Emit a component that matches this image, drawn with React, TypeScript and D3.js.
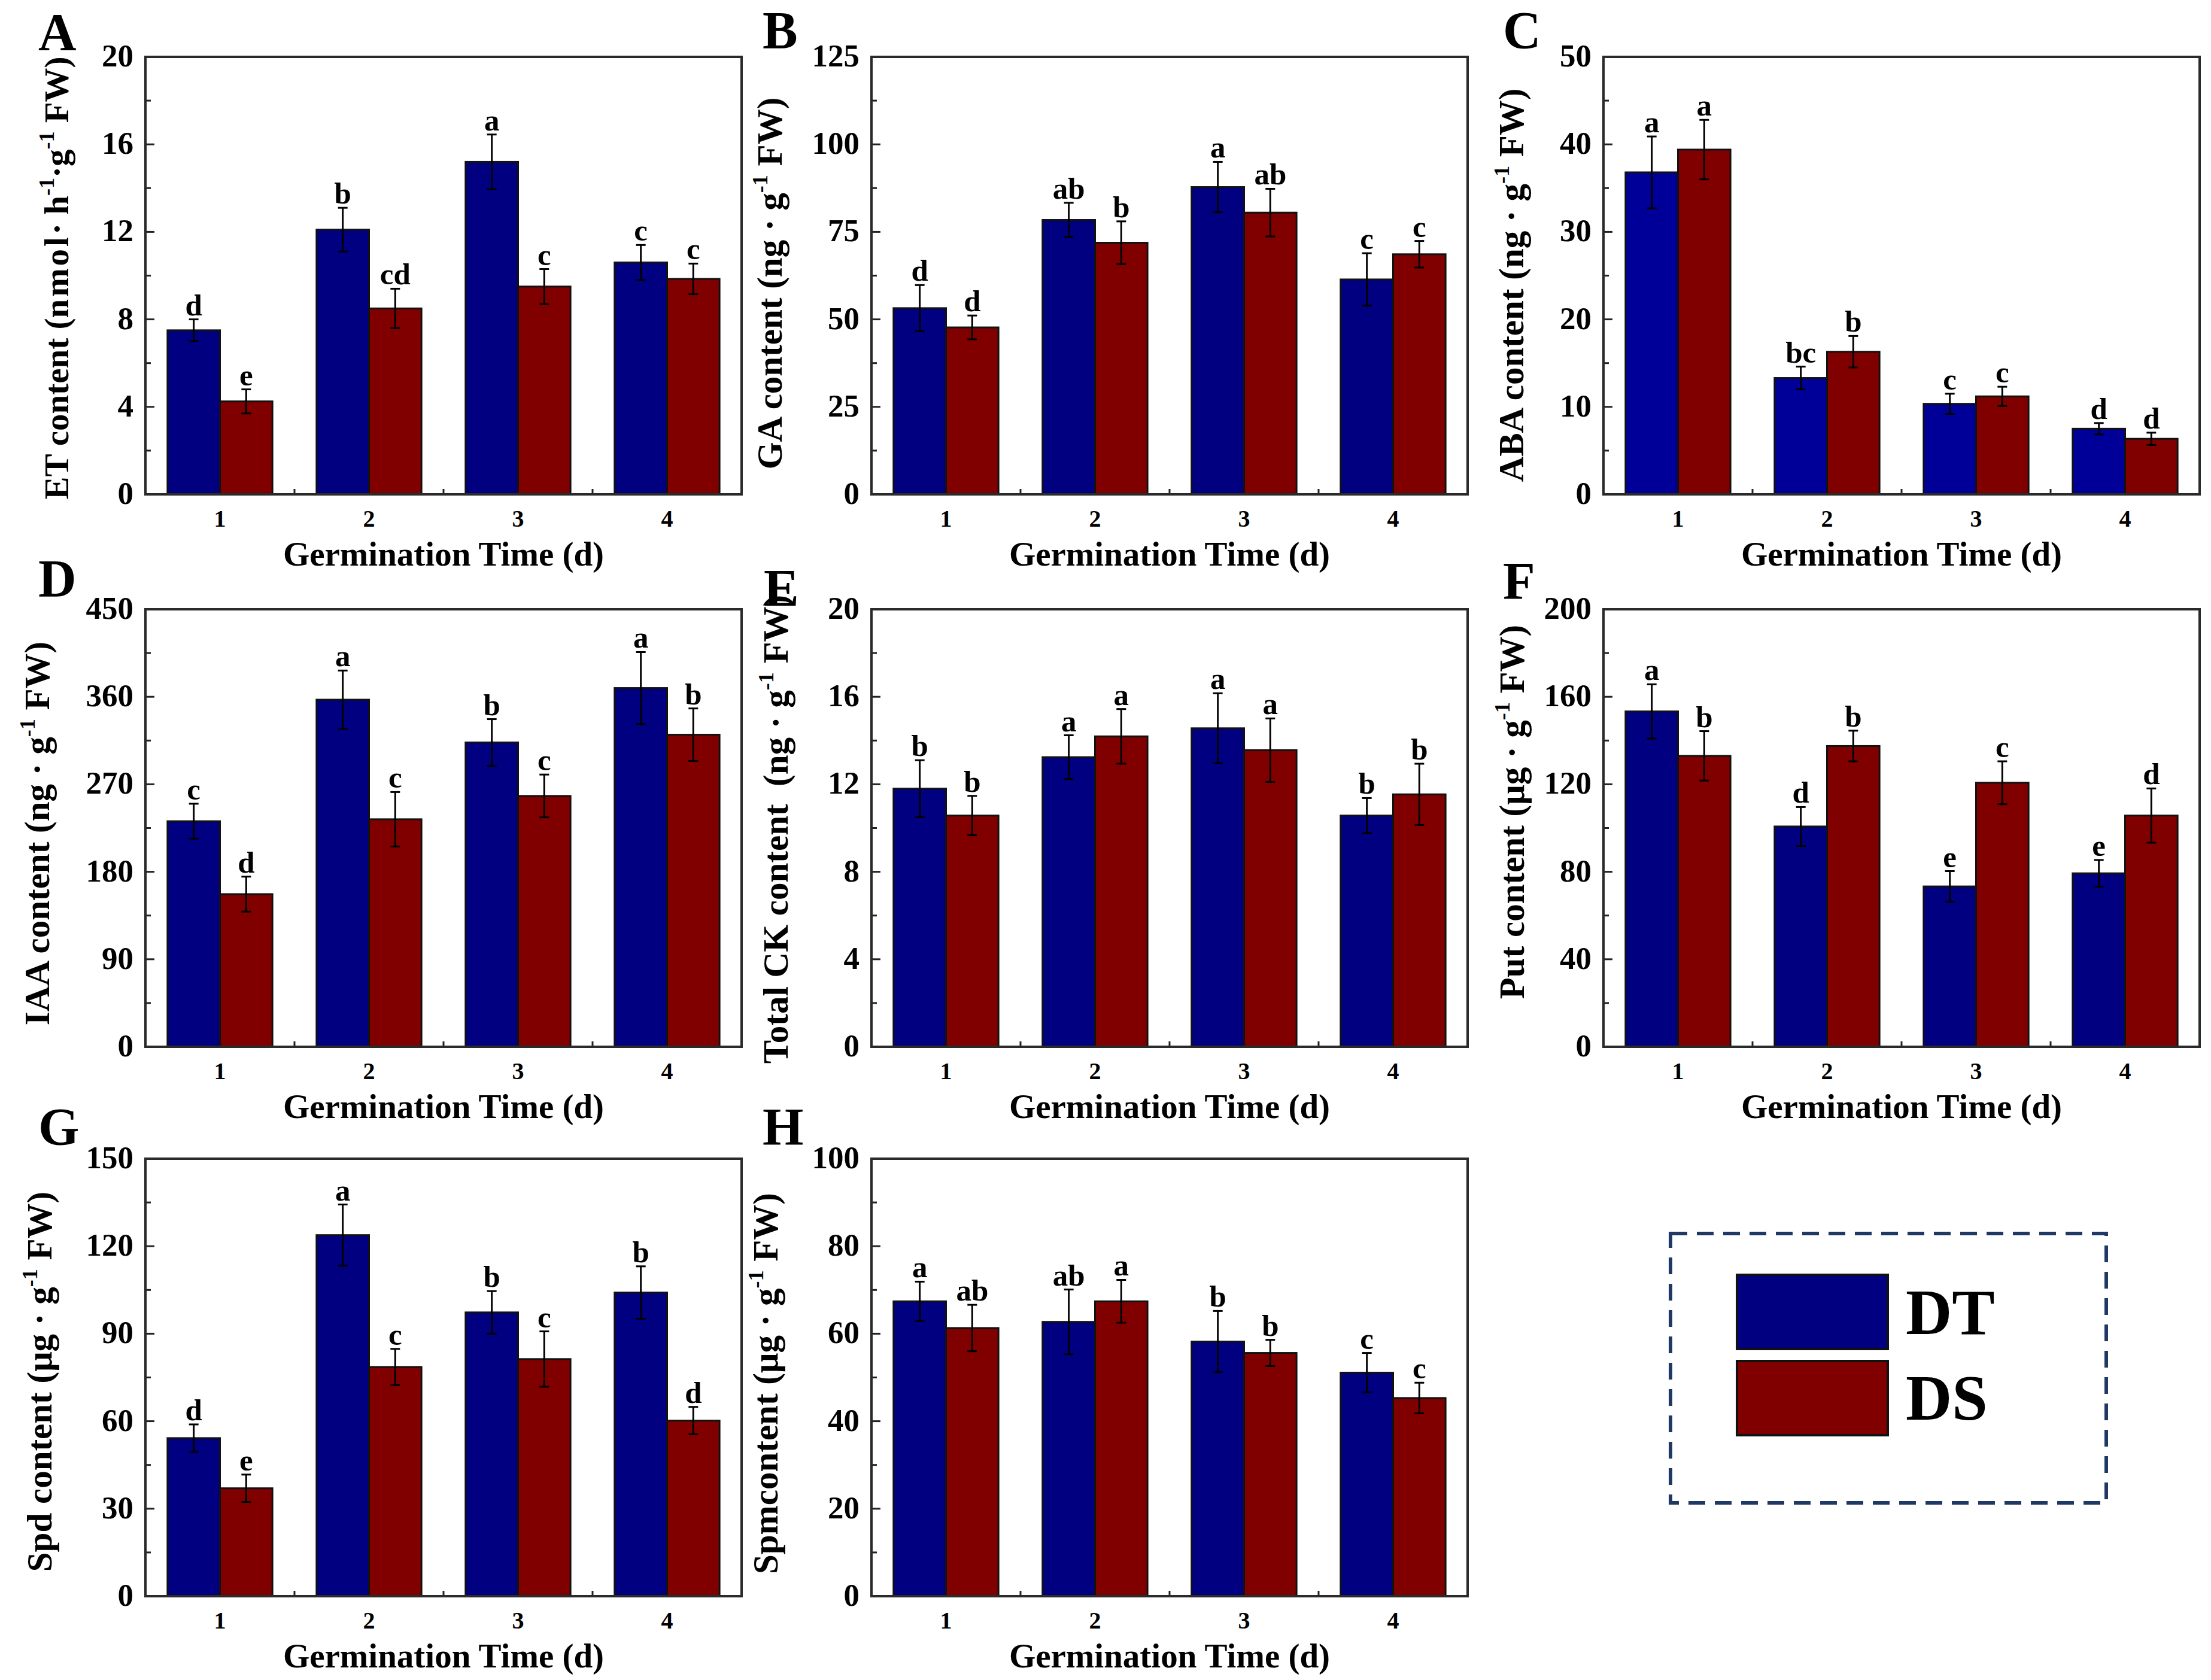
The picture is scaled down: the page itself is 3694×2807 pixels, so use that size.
import { useEffect } from 'react'
import * as d3 from 'd3'

// germination days
const days = [1, 2, 3, 4]

// A: ET
const etDT = [7.5, 12.1, 15.2, 10.6]
const etDTErr = [0.5, 1.0, 1.25, 0.8]
const etDS = [4.25, 8.5, 9.5, 9.85]
const etDSErr = [0.55, 0.9, 0.8, 0.7]
const etDTLetters = ['d', 'b', 'a', 'c']
const etDSLetters = ['e', 'cd', 'c', 'c']

// B: GA
const gaDT = [53.2, 78.4, 87.8, 61.4]
const gaDTErr = [6.6, 4.9, 7.2, 7.5]
const gaDS = [47.7, 71.9, 80.5, 68.6]
const gaDSErr = [3.4, 6.1, 6.8, 3.8]
const gaDTLetters = ['d', 'ab', 'a', 'c']
const gaDSLetters = ['d', 'b', 'ab', 'c']

// C: ABA
const abaDT = [36.8, 13.3, 10.35, 7.5]
const abaDTErr = [4.1, 1.3, 1.15, 0.65]
const abaDS = [39.4, 16.3, 11.2, 6.35]
const abaDSErr = [3.4, 1.8, 1.1, 0.7]
const abaDTLetters = ['a', 'bc', 'c', 'd']
const abaDSLetters = ['a', 'b', 'c', 'd']

// D: IAA
const iaaDT = [232, 357, 313, 369]
const iaaDTErr = [18, 30, 24, 37]
const iaaDS = [157, 234, 258, 321]
const iaaDSErr = [18, 28, 22, 27]
const iaaDTLetters = ['c', 'a', 'b', 'a']
const iaaDSLetters = ['d', 'c', 'c', 'b']

// E: total CK
const ckDT = [11.8, 13.24, 14.56, 10.57]
const ckDTErr = [1.3, 1.0, 1.6, 0.8]
const ckDS = [10.57, 14.19, 13.56, 11.54]
const ckDSErr = [0.9, 1.25, 1.45, 1.4]
const ckDTLetters = ['b', 'a', 'a', 'b']
const ckDSLetters = ['b', 'a', 'a', 'b']

// F: Put
const putDT = [153.3, 100.7, 73.3, 79.3]
const putDTErr = [12.4, 8.9, 7, 6.1]
const putDS = [133, 137.5, 120.7, 105.7]
const putDSErr = [11.3, 7, 9.8, 12.4]
const putDTLetters = ['a', 'd', 'e', 'e']
const putDSLetters = ['b', 'b', 'c', 'd']

// G: Spd
const spdDT = [54.2, 123.8, 97.3, 104.1]
const spdDTErr = [4.7, 10.5, 7.3, 9]
const spdDS = [37, 78.6, 81.3, 60.2]
const spdDSErr = [4.7, 6.2, 9.5, 4.7]
const spdDTLetters = ['d', 'a', 'b', 'b']
const spdDSLetters = ['e', 'c', 'c', 'd']

// H: Spm
const spmDT = [67.4, 62.7, 58.2, 51.1]
const spmDTErr = [4.5, 7.4, 7, 4.5]
const spmDS = [61.3, 67.4, 55.6, 45.3]
const spmDSErr = [5.3, 4.9, 3, 3.5]
const spmDTLetters = ['a', 'ab', 'b', 'c']
const spmDSLetters = ['ab', 'a', 'b', 'c']

const seriesNames = ['DT', 'DS']

const W = 3694
const H = 2807
const plotW = 996
const plotH = 731
const colX = [243, 1456, 2679]
const rowY = [95, 1018, 1936]
const FONT = '"Liberation Serif", "Times New Roman", serif'
const RED = '#800000'
const NAVY = '#000080'

const panels = [
  { id: 'A', col: 0, row: 0, max: 20, step: 4, dt: etDT, dtErr: etDTErr, ds: etDS, dsErr: etDSErr, dtL: etDTLetters, dsL: etDSLetters,
    title: [['ET content (', 0], ['nmol', 0, 4], ['· h', 0], ['-1', 1], ['·g', 0], ['-1', 1], [' FW)', 0]], tsize: 57, blue: NAVY, tdx: -129, tdy: 4, ldx: -179, ldy: -12 },
  { id: 'B', col: 1, row: 0, max: 125, step: 25, dt: gaDT, dtErr: gaDTErr, ds: gaDS, dsErr: gaDSErr, dtL: gaDTLetters, dsL: gaDSLetters,
    title: [['GA content (ng · g', 0], ['-1', 1], [' FW)', 0]], blue: NAVY, tdx: -150, tdy: 13, ldx: -182, ldy: -15 },
  { id: 'C', col: 2, row: 0, max: 50, step: 10, dt: abaDT, dtErr: abaDTErr, ds: abaDS, dsErr: abaDSErr, dtL: abaDTLetters, dsL: abaDSLetters,
    title: [['ABA content (ng · g', 0], ['-1', 1], [' FW)', 0]], blue: '#000099', tdx: -134, tdy: 16, ldx: -168, ldy: -15 },
  { id: 'D', col: 0, row: 1, max: 450, step: 90, dt: iaaDT, dtErr: iaaDTErr, ds: iaaDS, dsErr: iaaDSErr, dtL: iaaDTLetters, dsL: iaaDSLetters,
    title: [['IAA content (ng · g', 0], ['-1', 1], [' FW)', 0]], blue: NAVY, tdx: -161, tdy: 9, ldx: -179, ldy: -22 },
  { id: 'E', col: 1, row: 1, max: 20, step: 4, dt: ckDT, dtErr: ckDTErr, ds: ckDS, dsErr: ckDSErr, dtL: ckDTLetters, dsL: ckDSLetters,
    title: [['Total CK content\u00a0\u00a0(ng · g', 0], ['-1', 1], [' FW)', 0]], blue: NAVY, tdx: -140, tdy: 2, ldx: -180, ldy: -6 },
  { id: 'F', col: 2, row: 1, max: 200, step: 40, dt: putDT, dtErr: putDTErr, ds: putDS, dsErr: putDSErr, dtL: putDTLetters, dsL: putDSLetters,
    title: [['Put content (μg · g', 0], ['-1', 1], [' FW)', 0]], blue: NAVY, tdx: -133, tdy: -27, ldx: -168, ldy: -18 },
  { id: 'G', col: 0, row: 2, max: 150, step: 30, dt: spdDT, dtErr: spdDTErr, ds: spdDS, dsErr: spdDSErr, dtL: spdDTLetters, dsL: spdDSLetters,
    title: [['Spd content (μg · g', 0], ['-1', 1], [' FW)', 0]], blue: NAVY, tdx: -157, tdy: 7, ldx: -179, ldy: -24 },
  { id: 'H', col: 1, row: 2, max: 100, step: 20, dt: spmDT, dtErr: spmDTErr, ds: spmDS, dsErr: spmDSErr, dtL: spmDTLetters, dsL: spmDSLetters,
    title: [['Spmcontent (μg · g', 0], ['-1', 1], [' FW)', 0]], blue: NAVY, tdx: -157, tdy: 10, ldx: -182, ldy: -24 },
]

const barW = 0.352

function Panel({ p }) {
  const x0 = colX[p.col]
  const y0 = rowY[p.row]
  const x = d3.scaleLinear().domain([0.5, 4.5]).range([0, plotW])
  const y = d3.scaleLinear().domain([0, p.max]).range([plotH, 0])
  const majors = d3.range(0, p.max + 1e-9, p.step)
  const minors = d3.range(p.step / 2, p.max, p.step)
  const xMinors = [1.5, 2.5, 3.5]

  const series = [
    { vals: p.dt, errs: p.dtErr, lets: p.dtL, color: p.blue, off: -barW },
    { vals: p.ds, errs: p.dsErr, lets: p.dsL, color: RED, off: 0 },
  ]

  return (
    <g transform={`translate(${x0},${y0})`}>
      {/* panel letter */}
      <text x={p.ldx} y={p.ldy} fontSize={88} fontWeight="bold" fontFamily={FONT}>{p.id}</text>

      {/* ticks */}
      {majors.map(v => (
        <line key={'M' + v} x1={0} x2={15} y1={y(v)} y2={y(v)} stroke="#222" strokeWidth={3} />
      ))}
      {minors.map(v => (
        <line key={'m' + v} x1={0} x2={9} y1={y(v)} y2={y(v)} stroke="#222" strokeWidth={3} />
      ))}
      {xMinors.map(v => (
        <line key={'x' + v} x1={x(v)} x2={x(v)} y1={plotH} y2={plotH - 9} stroke="#222" strokeWidth={3} />
      ))}

      {/* bars */}
      {series.map((s, si) => days.map((d, i) => (
        <rect key={si + '-' + d} x={x(d + s.off)} y={y(s.vals[i])}
          width={x(d + s.off + barW) - x(d + s.off)} height={plotH - y(s.vals[i])}
          fill={s.color} stroke="#111" strokeWidth={3} />
      )))}

      {/* error bars + letters */}
      {series.map((s, si) => days.map((d, i) => {
        const cx = x(d + s.off + barW / 2)
        const top = y(s.vals[i] + s.errs[i])
        const bot = y(s.vals[i] - s.errs[i])
        return (
          <g key={'e' + si + d}>
            <line x1={cx} x2={cx} y1={top} y2={bot} stroke="#000" strokeWidth={3} />
            <line x1={cx - 8} x2={cx + 8} y1={top} y2={top} stroke="#000" strokeWidth={3} />
            <line x1={cx - 8} x2={cx + 8} y1={bot} y2={bot} stroke="#000" strokeWidth={3} />
            <text x={cx} y={top - 7} textAnchor="middle" fontSize={51} fontWeight="bold" fontFamily={FONT}>{s.lets[i]}</text>
          </g>
        )
      }))}

      {/* frame */}
      <rect x={0} y={0} width={plotW} height={plotH} fill="none" stroke="#2a2a2a" strokeWidth={4} />

      {/* y tick labels */}
      {majors.map(v => (
        <text key={'t' + v} x={-20} y={y(v)} dy="0.3em" textAnchor="end" fontSize={53} fontWeight="bold" fontFamily={FONT}>{v}</text>
      ))}
      {/* x tick labels */}
      {days.map(d => (
        <text key={'d' + d} x={x(d)} y={plotH + 54} textAnchor="middle" fontSize={40} fontWeight="bold" fontFamily={FONT}>{d}</text>
      ))}
      <text x={plotW / 2} y={plotH + 119} textAnchor="middle" fontSize={57} fontWeight="bold" fontFamily={FONT}>Germination Time (d)</text>

      {/* y title */}
      <text transform={`translate(${p.tdx},${plotH / 2 + p.tdy}) rotate(-90)`} textAnchor="middle" dy="0.35em"
        fontSize={p.tsize || 59} fontWeight="bold" fontFamily={FONT} style={{ whiteSpace: 'pre' }}>
        {p.title.map((t, k) => t[1]
          ? <tspan key={k} fontSize={36} dy={-24}>{t[0]}</tspan>
          : <tspan key={k} dy={k > 0 && p.title[k - 1][1] ? 24 : 0} letterSpacing={t[2] || 0}>{t[0]}</tspan>)}
      </text>
    </g>
  )
}

function Legend() {
  const colors = [NAVY, RED]
  return (
    <g>
      <rect x={2791} y={2061} width={728} height={450} fill="none" stroke="#203864" strokeWidth={6} strokeDasharray="28 16" />
      {seriesNames.map((n, i) => (
        <g key={n}>
          <rect x={2902} y={2130 + i * 144} width={252} height={124} fill={colors[i]} stroke="#111" strokeWidth={4} />
          <text x={3184} y={2229 + i * 143} fontSize={107} fontWeight="bold" fontFamily={FONT}>{n}</text>
        </g>
      ))}
    </g>
  )
}

export default function App() {
  useEffect(() => {
    document.body.style.margin = '0'
  }, [])
  return (
    <svg width={W} height={H} viewBox={`0 0 ${W} ${H}`} style={{ display: 'block', background: '#fff' }}>
      <rect width={W} height={H} fill="#fff" />
      {panels.map(p => <Panel key={p.id} p={p} />)}
      <Legend />
    </svg>
  )
}
